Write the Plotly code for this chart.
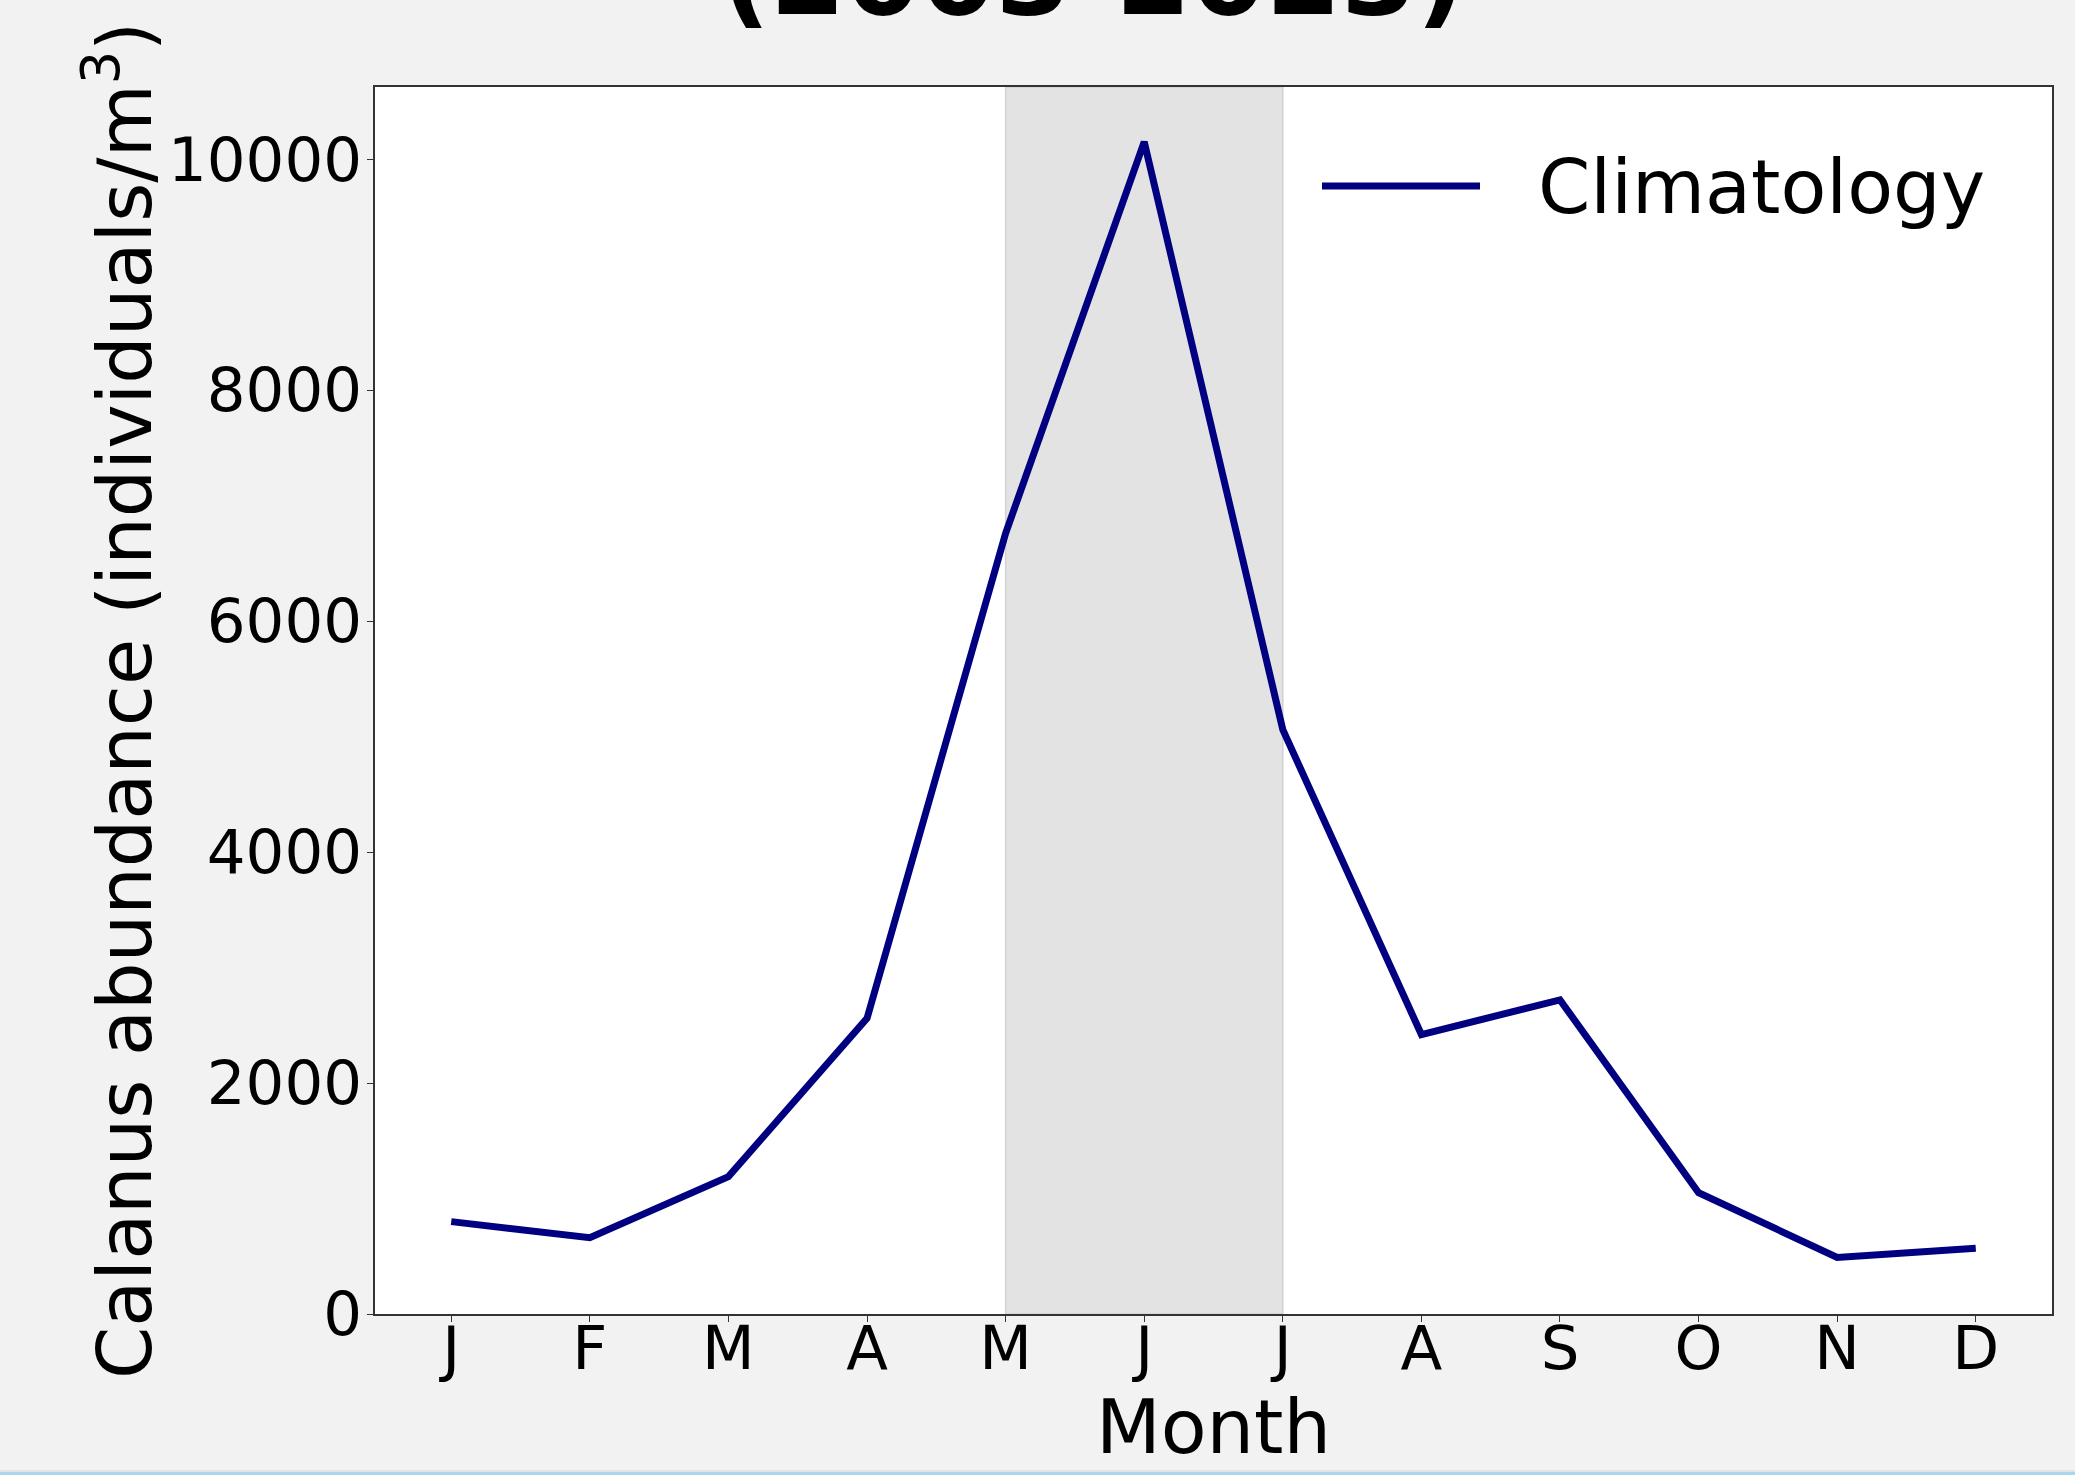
import plotly.graph_objects as go

# ---- data ----
months = ["J", "F", "M", "A", "M", "J", "J", "A", "S", "O", "N", "D"]
climatology = [800, 660, 1190, 2560, 6760, 10150, 5060, 2420, 2720, 1050, 490, 570]
series_name = "Climatology"
title_text = "(2003-2023)"
x_title = "Month"
y_title = "Calanus abundance (individuals/m<sup>3</sup>)"
y_ticks = [0, 2000, 4000, 6000, 8000, 10000]
y_ticktext = ["0", "2000", "4000", "6000", "8000", "10000"]
shade_start, shade_end = 4, 6  # May to July

W, H = 2075, 1475
L, R, T, B = 375, 23, 87, 161
pw, ph = W - L - R, H - T - B

def px_x(x):
    return (x - L) / pw

def px_y(y):
    return (H - B - y) / ph

FONT = "DejaVu Sans"
NAVY = "#000080"

x_idx = list(range(len(months)))

fig = go.Figure()
fig.add_trace(go.Scatter(
    x=x_idx, y=climatology, mode="lines", name=series_name,
    line=dict(color=NAVY, width=7), showlegend=False,
))

fig.add_vrect(x0=shade_start, x1=shade_end, fillcolor="#e3e3e3", opacity=1,
              line=dict(color="#d2d2d2", width=1.5), layer="below")

# legend (manual, to mimic long sample line)
fig.add_shape(type="line", xref="paper", yref="paper",
              x0=px_x(1322), x1=px_x(1480), y0=px_y(186), y1=px_y(186),
              line=dict(color=NAVY, width=7))
fig.add_annotation(text=series_name, xref="paper", yref="paper",
                   x=px_x(1536), y=px_y(187), xanchor="left", yanchor="middle",
                   showarrow=False, font=dict(family=FONT, size=75, color="black"))

# y-axis title (rotated)
fig.add_annotation(text=y_title, xref="paper", yref="paper",
                   x=px_x(171), y=0.5, xanchor="right", yanchor="middle",
                   textangle=-90, showarrow=False,
                   font=dict(family=FONT, size=75, color="black"))

# partially visible title
fig.add_annotation(text=f"<b>{title_text}</b>", xref="paper", yref="paper",
                   x=px_x(1093), y=px_y(41), xanchor="center", yanchor="bottom",
                   showarrow=False, font=dict(family=FONT, size=108, color="black"))

# light blue strip at the bottom edge
fig.add_shape(type="rect", xref="paper", yref="paper",
              x0=px_x(0), x1=px_x(W), y0=px_y(1475), y1=px_y(1472),
              fillcolor="#a9d6ee", line=dict(width=0), layer="above")
fig.add_shape(type="rect", xref="paper", yref="paper",
              x0=px_x(0), x1=px_x(W), y0=px_y(1472), y1=px_y(1470),
              fillcolor="#e4e4e4", line=dict(width=0), layer="above")

fig.update_layout(
    width=W, height=H,
    margin=dict(l=L, r=R, t=T, b=B, pad=0),
    paper_bgcolor="#f2f2f2", plot_bgcolor="white",
    font=dict(family=FONT, color="black"),
    showlegend=False,
)
fig.update_xaxes(
    range=[-0.55, 11.55], tickmode="array", tickvals=x_idx, ticktext=months,
    tickfont=dict(size=61), ticks="outside", ticklen=6, tickcolor="#333",
    ticklabelstandoff=-26,
    showline=True, linecolor="#333", linewidth=1.5, mirror=True,
    showgrid=False, zeroline=False,
    title=dict(text=x_title, font=dict(size=75), standoff=7),
)
fig.update_yaxes(
    range=[0, 10625], tickmode="array", tickvals=y_ticks, ticktext=y_ticktext,
    tickfont=dict(size=61), ticks="outside", ticklen=6, tickcolor="#333",
    ticklabelstandoff=-7,
    showline=True, linecolor="#333", linewidth=1.5, mirror=True,
    showgrid=False, zeroline=False,
)

fig.write_html(
    "out.html",
    config={"displayModeBar": False},
    post_script="document.body.style.margin='0';document.body.style.background='#f2f2f2';",
)
